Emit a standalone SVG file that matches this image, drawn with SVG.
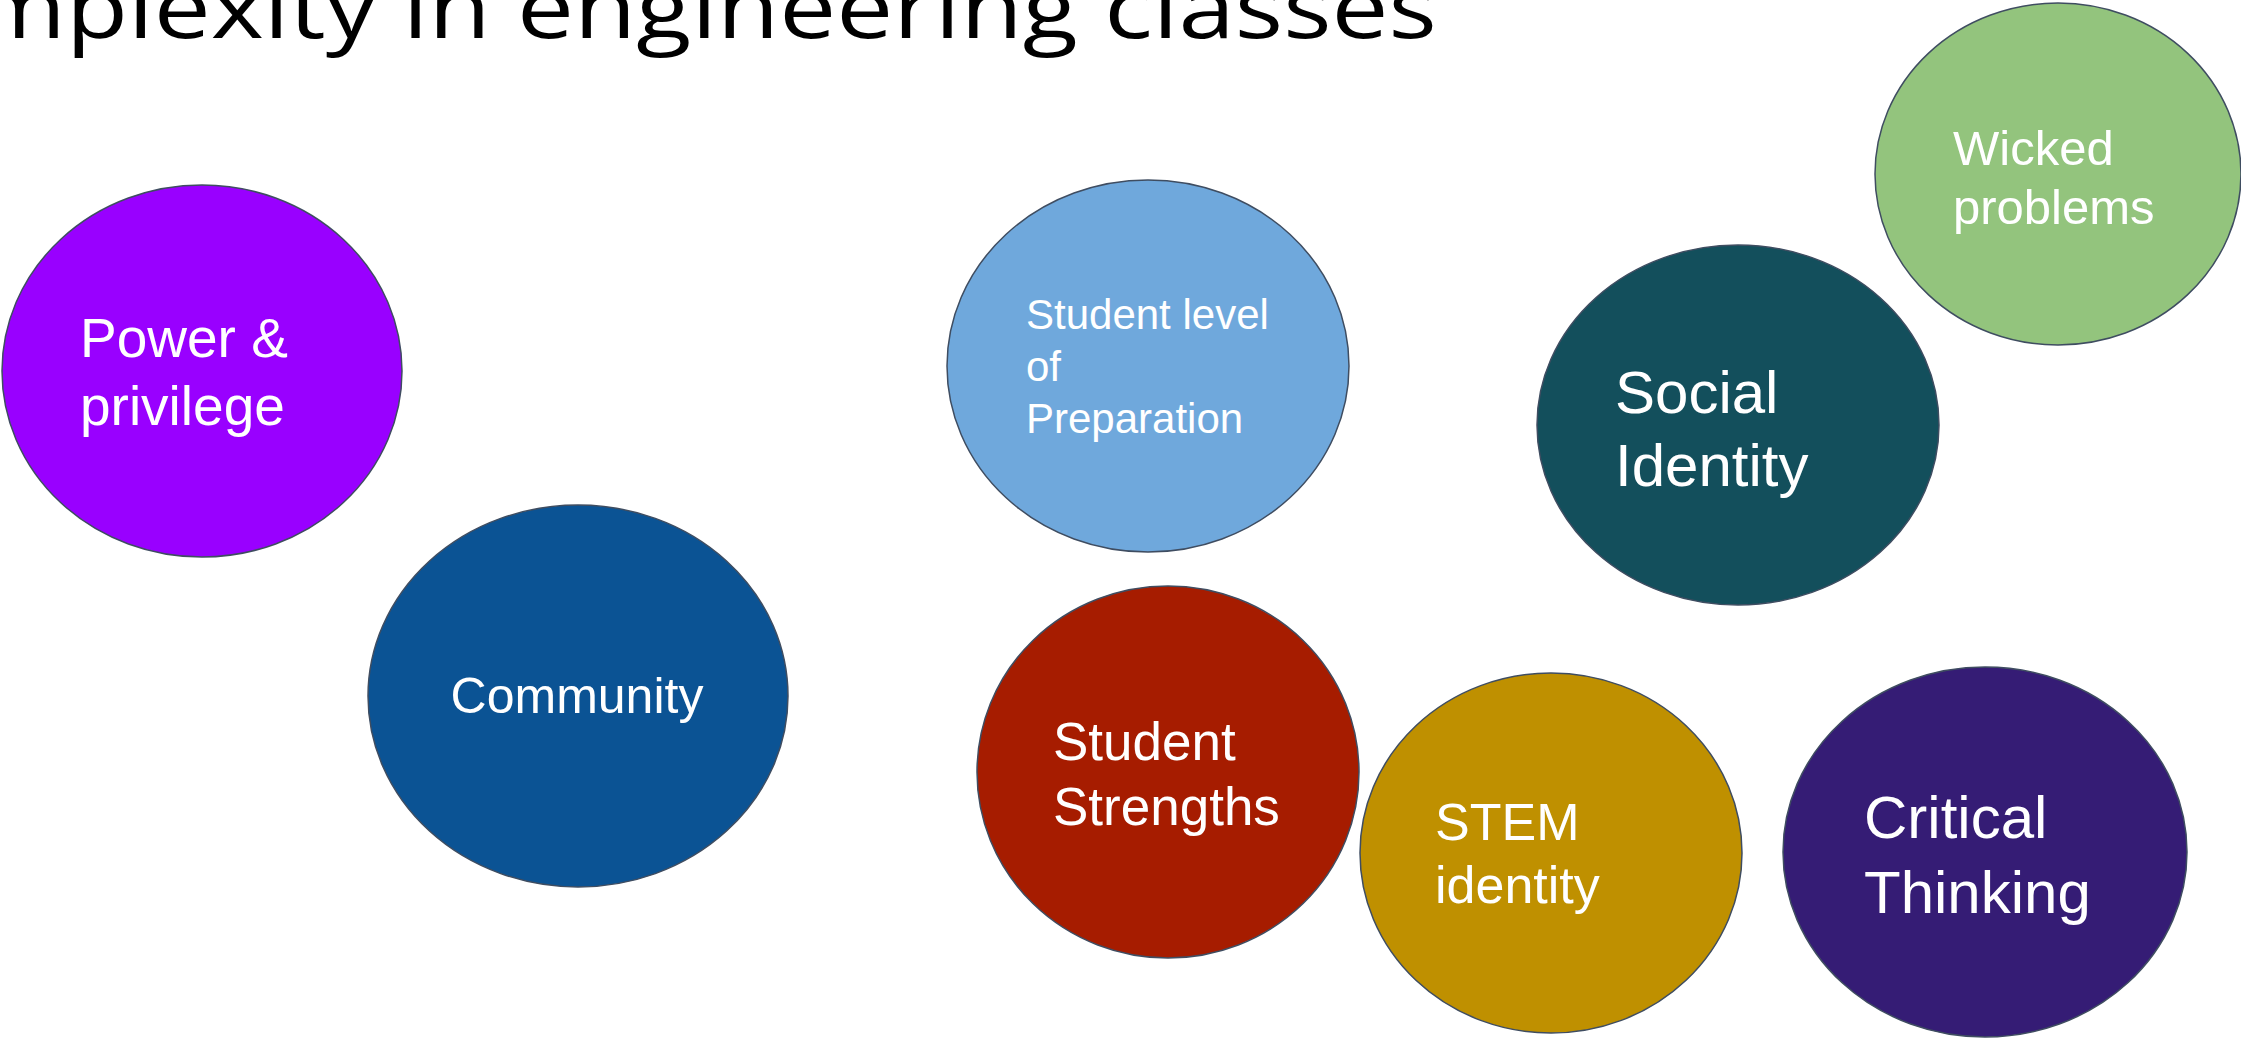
<svg xmlns="http://www.w3.org/2000/svg" width="2241" height="1038" viewBox="0 0 2241 1038">
<style>
.n{stroke:#3f4d61;stroke-width:1.5}
.t{font-family:"Liberation Sans",Arial,sans-serif;fill:#ffffff}
.title{font-family:"Open Sans","DejaVu Sans",sans-serif;fill:#000000;font-size:84px}
</style>
<rect width="2241" height="1038" fill="#ffffff"/>
<text class="title" x="-28" y="38" textLength="1465" lengthAdjust="spacingAndGlyphs">mplexity in engineering classes</text>
<g id="connectors"></g>
<g id="power">
<ellipse class="n" cx="202" cy="371" rx="200" ry="186" fill="#9900ff"/>
<text class="t" font-size="55"><tspan x="80" y="357">Power &amp;</tspan><tspan x="80" y="425">privilege</tspan></text>
</g>
<g id="community">
<ellipse class="n" cx="578" cy="696" rx="210" ry="191" fill="#0b5394"/>
<text class="t" font-size="50" x="577" y="713" text-anchor="middle">Community</text>
</g>
<g id="preparation">
<ellipse class="n" cx="1148" cy="366" rx="201" ry="186" fill="#6fa8dc"/>
<text class="t" font-size="42"><tspan x="1026" y="329">Student level</tspan><tspan x="1026" y="381">of</tspan><tspan x="1026" y="433">Preparation</tspan></text>
</g>
<g id="strengths">
<ellipse class="n" cx="1168" cy="772" rx="191" ry="186" fill="#a61c00"/>
<text class="t" font-size="53"><tspan x="1053" y="760">Student</tspan><tspan x="1053" y="825">Strengths</tspan></text>
</g>
<g id="stem">
<ellipse class="n" cx="1551" cy="853" rx="191" ry="180" fill="#bf9000"/>
<text class="t" font-size="52"><tspan x="1435" y="840">STEM</tspan><tspan x="1435" y="903">identity</tspan></text>
</g>
<g id="social">
<ellipse class="n" cx="1738" cy="425" rx="201" ry="180" fill="#134f5c"/>
<text class="t" font-size="60"><tspan x="1615" y="413">Social</tspan><tspan x="1615" y="486">Identity</tspan></text>
</g>
<g id="wicked">
<ellipse class="n" cx="2058" cy="174" rx="183" ry="171" fill="#93c47d"/>
<text class="t" font-size="49"><tspan x="1953" y="165">Wicked</tspan><tspan x="1953" y="224">problems</tspan></text>
</g>
<g id="critical">
<ellipse class="n" cx="1985" cy="852" rx="202" ry="185" fill="#351c75"/>
<text class="t" font-size="60"><tspan x="1864" y="838">Critical</tspan><tspan x="1864" y="913">Thinking</tspan></text>
</g>
</svg>
